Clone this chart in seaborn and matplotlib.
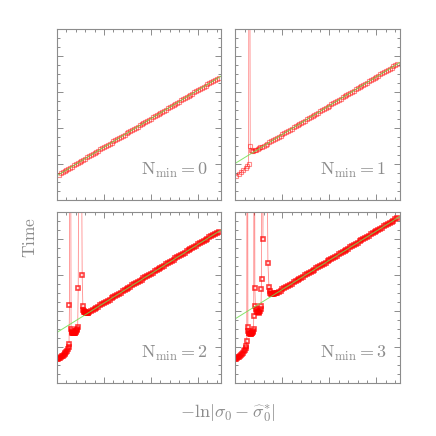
import pandas as pd
import matplotlib
matplotlib.use('Agg')
import matplotlib.pyplot as plt
from matplotlib.ticker import MultipleLocator
import seaborn as sns

# x = -ln|sigma_0 - sigma_0*|, sampled grid for the linear regime
x_grid = [0.0, 0.2, 0.4, 0.6, 0.8, 1.0, 1.2, 1.4, 1.6, 1.8, 2.0, 2.2, 2.4, 2.6, 2.8,
          3.0, 3.2, 3.4, 3.6, 3.8, 4.0, 4.2, 4.4, 4.6, 4.8, 5.0, 5.2, 5.4, 5.6, 5.8,
          6.0, 6.2, 6.4, 6.6, 6.8, 7.0, 7.2, 7.4, 7.6, 7.8, 8.0, 8.2, 8.4, 8.6, 8.8,
          9.0, 9.2, 9.4, 9.6, 9.8, 10.0, 10.2, 10.4, 10.6, 10.8, 11.0, 11.2, 11.4,
          11.6, 11.8, 12.0, 12.2, 12.4, 12.6, 12.8, 13.0, 13.2, 13.4, 13.6, 13.8, 14.0,
          14.2, 14.4, 14.6, 14.8, 15.0, 15.2, 15.4, 15.6, 15.8, 16.0, 16.2, 16.4, 16.6,
          16.8, 17.0, 17.2]

# N_min = 0
time_n0 = [2.83, 2.95, 3.08, 3.21, 3.33, 3.46, 3.59, 3.71, 3.84, 3.97, 4.09, 4.22, 4.35,
           4.48, 4.60, 4.73, 4.86, 4.98, 5.11, 5.24, 5.36, 5.49, 5.62, 5.74, 5.87, 6.00,
           6.12, 6.25, 6.38, 6.50, 6.63, 6.76, 6.88, 7.01, 7.14, 7.26, 7.39, 7.52, 7.65,
           7.77, 7.90, 8.03, 8.15, 8.28, 8.41, 8.53, 8.66, 8.79, 8.91, 9.04, 9.17, 9.29,
           9.42, 9.55, 9.67, 9.80, 9.93, 10.05, 10.18, 10.31, 10.43, 10.56, 10.69, 10.82,
           10.94, 11.07, 11.20, 11.32, 11.45, 11.58, 11.70, 11.83, 11.96, 12.08, 12.21,
           12.34, 12.46, 12.59, 12.72, 12.84, 12.97, 13.10, 13.22, 13.35, 13.48, 13.60]
fit_x = [0.0, 17.5]
fit_n0 = [2.70, 13.79]

# N_min = 1
branch_x_n1 = [0.07, 0.35, 0.61, 0.85, 1.07, 1.25, 1.39, 1.47,
               1.57, 1.65, 1.75, 1.9, 2.05, 2.2, 2.35, 2.5, 2.65]
branch_t_n1 = [2.69, 2.87, 3.13, 3.35, 3.57, 3.79, 4.05, 60.0,
               6.0, 5.6, 5.5, 5.48, 5.52, 5.6, 5.7, 5.78, 5.84]
lin_t_n1 = [5.88, 6.01, 6.14, 6.27, 6.39, 6.52, 6.65, 6.78, 6.91, 7.03, 7.16, 7.29, 7.42,
            7.55, 7.67, 7.80, 7.93, 8.06, 8.19, 8.31, 8.44, 8.57, 8.70, 8.83, 8.95, 9.08,
            9.21, 9.34, 9.47, 9.59, 9.72, 9.85, 9.98, 10.11, 10.23, 10.36, 10.49, 10.62,
            10.75, 10.87, 11.00, 11.13, 11.26, 11.39, 11.51, 11.64, 11.77, 11.90, 12.03,
            12.15, 12.28, 12.41, 12.54, 12.67, 12.79, 12.92, 13.05, 13.18, 13.31, 13.43,
            13.56, 13.69, 13.82, 13.95, 14.07, 14.20, 14.33, 14.46, 14.59, 14.71, 14.84,
            14.97, 15.10]
fit_n1 = [4.09, 15.29]

# N_min = 2
branch_x_n2 = [0.03, 0.1, 0.2, 0.3, 0.4, 0.5, 0.6, 0.7, 0.8, 0.9, 1.0, 1.1, 1.18, 1.24, 1.28,
               1.33, 1.4, 1.5,
               1.55, 1.6, 1.65, 1.7, 1.75, 1.8, 1.85, 1.9, 1.95, 2.0, 2.05, 2.1, 2.15, 2.2,
               2.26, 2.45, 2.68, 2.75,
               2.8, 2.85, 2.9, 2.95, 3.0, 3.05, 3.1, 3.15, 3.2, 3.25, 3.3]
branch_t_n2 = [2.68, 2.7, 2.75, 2.82, 2.88, 2.96, 3.05, 3.14, 3.24, 3.34, 3.46, 3.6, 3.78, 4.0, 4.32,
               8.7, 60.0, 6.03,
               5.75, 5.62, 5.56, 5.53, 5.52, 5.52, 5.53, 5.56, 5.6, 5.66, 5.74, 5.85, 6.0, 6.22,
               10.5, 60.0, 12.0, 8.6,
               8.15, 8.02, 7.94, 7.88, 7.84, 7.81, 7.79, 7.78, 7.78, 7.79, 7.8]
lin_t_n2 = [7.84, 7.97, 8.10, 8.23, 8.36, 8.49, 8.62, 8.75, 8.88, 9.01, 9.14, 9.27, 9.40,
            9.53, 9.66, 9.79, 9.92, 10.05, 10.18, 10.31, 10.44, 10.58, 10.71, 10.84, 10.97,
            11.10, 11.23, 11.36, 11.49, 11.62, 11.75, 11.88, 12.01, 12.14, 12.27, 12.40,
            12.53, 12.66, 12.79, 12.92, 13.05, 13.18, 13.31, 13.44, 13.57, 13.70, 13.84,
            13.97, 14.10, 14.23, 14.36, 14.49, 14.62, 14.75, 14.88, 15.01, 15.14, 15.27,
            15.40, 15.53, 15.66, 15.79, 15.92, 16.05, 16.18, 16.31, 16.44, 16.57, 16.70,
            16.83]
fit_n2 = [5.62, 17.03]

# N_min = 3
branch_x_n3 = [0.0, 0.1, 0.2, 0.3, 0.4, 0.5, 0.6, 0.7, 0.8, 0.9, 1.0, 1.08, 1.14,
               1.2, 1.26, 1.32,
               1.36, 1.42, 1.48, 1.54, 1.6, 1.66, 1.72, 1.78, 1.84, 1.88, 1.92,
               1.94, 2.0, 2.06,
               2.12, 2.2, 2.27, 2.34, 2.41, 2.48, 2.55, 2.62, 2.68, 2.72,
               2.75, 2.77, 2.84, 2.92, 3.1, 3.45, 3.56,
               3.62, 3.7, 3.8, 3.9, 4.0, 4.1, 4.2, 4.3]
branch_t_n3 = [2.68, 2.72, 2.78, 2.85, 2.93, 3.02, 3.12, 3.23, 3.35, 3.5, 3.67, 3.85, 4.06,
               4.7, 60.0, 6.2,
               5.75, 5.6, 5.52, 5.48, 5.47, 5.48, 5.51, 5.57, 5.68, 5.82, 6.05,
               7.41, 60.0, 10.58,
               8.6, 8.2, 7.98, 7.88, 7.84, 7.83, 7.86, 7.95, 8.2, 8.53,
               10.47, 11.5, 60.0, 15.98, 60.0, 13.37, 10.7,
               10.2, 10.0, 9.9, 9.88, 9.89, 9.92, 9.95, 9.98]
lin_t_n3 = [10.01, 10.14, 10.27, 10.40, 10.52, 10.65, 10.78, 10.91, 11.04, 11.17, 11.30,
            11.43, 11.56, 11.69, 11.82, 11.95, 12.08, 12.21, 12.34, 12.47, 12.60, 12.73,
            12.86, 12.99, 13.12, 13.25, 13.38, 13.51, 13.64, 13.77, 13.90, 14.03, 14.16,
            14.29, 14.42, 14.55, 14.68, 14.81, 14.94, 15.07, 15.20, 15.33, 15.46, 15.59,
            15.72, 15.85, 15.98, 16.11, 16.24, 16.37, 16.50, 16.63, 16.76, 16.89, 17.02,
            17.14, 17.27, 17.40, 17.53, 17.66, 17.79, 17.92, 18.05, 18.18, 18.31]
fit_n3 = [7.15, 18.51]

panels = [
    ('0', x_grid[1:], time_n0, fit_n0),
    ('1', branch_x_n1 + x_grid[14:], branch_t_n1 + lin_t_n1, fit_n1),
    ('2', branch_x_n2 + x_grid[17:], branch_t_n2 + lin_t_n2, fit_n2),
    ('3', branch_x_n3 + x_grid[22:], branch_t_n3 + lin_t_n3, fit_n3),
]

sns.set_style('ticks')
plt.rcParams['mathtext.fontset'] = 'cm'
grey = '#8c8c8c'

fig, axes = plt.subplots(2, 2, figsize=(4.36, 4.36), dpi=100)
fig.subplots_adjust(left=0.1307, right=0.9174, bottom=0.1216, top=0.9335,
                    wspace=0.085, hspace=0.07)

for ax, (n, xs, ts, fit) in zip(axes.flat, panels):
    df = pd.DataFrame({'x': xs, 't': ts})
    dense = n in ('2', '3')
    sns.lineplot(data=df, x='x', y='t', ax=ax, sort=False, estimator=None,
                 color=(1, 0, 0, 0.45), lw=0.6,
                 marker='s', markersize=3.0, markerfacecolor='none',
                 markeredgecolor=(1, 0, 0, 0.75 if dense else 0.45),
                 markeredgewidth=1.2 if dense else 0.8)
    fit_df = pd.DataFrame({'x': fit_x, 't': fit})
    sns.lineplot(data=fit_df, x='x', y='t', ax=ax, sort=False, estimator=None,
                 color='#70e050', lw=0.7, alpha=0.85)
    ax.set_xlim(0, 17.5)
    ax.set_ylim(0, 19)
    ax.set_xlabel('')
    ax.set_ylabel('')
    ax.xaxis.set_major_locator(MultipleLocator(5))
    ax.xaxis.set_minor_locator(MultipleLocator(1))
    ax.yaxis.set_major_locator(MultipleLocator(4))
    ax.yaxis.set_minor_locator(MultipleLocator(1))
    ax.tick_params(which='both', direction='in', top=True, right=True,
                   labelbottom=False, labelleft=False, color=grey, width=0.7)
    ax.tick_params(which='major', length=4.5)
    ax.tick_params(which='minor', length=2.2)
    for sp in ax.spines.values():
        sp.set_color(grey)
        sp.set_linewidth(0.8)
    ax.text(0.92, 0.145, r'$\mathrm{N_{min}=%s}$' % n, transform=ax.transAxes,
            ha='right', va='baseline', fontsize=13, color=grey)

fig.text(0.069, 0.456, r'$\mathrm{Time}$', rotation=90, ha='center', va='center',
         fontsize=12.5, color=grey)
fig.text(0.523, 0.053, r'$-\ln|\sigma_0 - \widehat{\sigma}_0^{\ast}|$', ha='center',
         va='center', fontsize=13, color=grey)

fig.savefig('out.png', dpi=100)
